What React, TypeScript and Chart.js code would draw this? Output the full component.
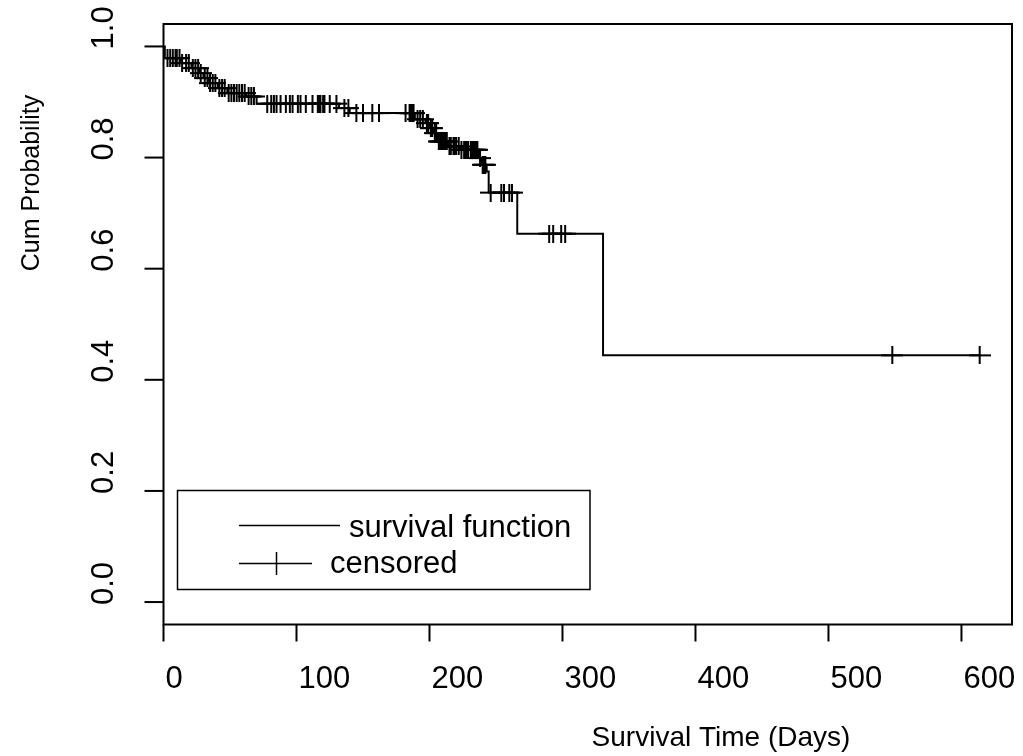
import React, { useEffect, useRef } from "react";
import { Chart, registerables } from "chart.js";

Chart.register(...registerables);

// Kaplan-Meier step function: time of each drop and survival after it
const eventTimes = [0, 1, 13, 21, 27, 30, 34, 41, 48, 62, 70, 132, 140, 189, 197, 200, 203, 206, 214, 223, 237, 239, 243, 244.5, 266, 330.5, 613.7];
const survival = [1.0, 0.979, 0.97, 0.961, 0.952, 0.943, 0.934, 0.925, 0.916, 0.91, 0.897, 0.889, 0.88, 0.869, 0.862, 0.853, 0.844, 0.829, 0.82, 0.814, 0.799, 0.787, 0.775, 0.737, 0.663, 0.444, 0.444];

// Censoring times
const censorTimes = [
  3, 5, 7, 9, 10, 12,
  14, 17, 19,
  22, 24, 26,
  28,
  31, 33,
  35, 37, 39,
  42, 44, 46,
  49, 51, 53, 55, 57, 59, 61,
  64, 66, 68,
  78, 81, 83, 85, 88, 92, 95, 97, 101, 103, 107, 112, 116, 117, 118, 120, 121, 125, 130,
  136, 139,
  145, 150, 157, 162, 182, 185, 186, 187, 188,
  191, 193, 195,
  198, 199,
  201, 202,
  204, 205,
  207, 208, 209, 210, 211, 212, 213,
  215, 216, 218, 219, 220, 222,
  224, 226, 227, 228, 229, 231, 232, 233, 234, 235, 236,
  238,
  240, 241, 242,
  246,
  254, 256, 260, 262,
  290, 293, 299, 302,
  548, 613.7,
];

const xTicks = [0, 100, 200, 300, 400, 500, 600];
const yTicks = [0.0, 0.2, 0.4, 0.6, 0.8, 1.0];
const yTickLabels = ["0.0", "0.2", "0.4", "0.6", "0.8", "1.0"];
const xTitle = "Survival Time (Days)";
const yTitle = "Cum Probability";
const legendLabels = ["survival function", "censored"];

const FONT = '"Liberation Sans", Arial, sans-serif';

function survivalAt(t: number): number {
  let s = survival[0];
  for (let i = 0; i < eventTimes.length; i++) {
    if (eventTimes[i] <= t) s = survival[i];
  }
  return s;
}

function makeCross(): HTMLCanvasElement {
  const c = document.createElement("canvas");
  c.width = 22;
  c.height = 18;
  const g = c.getContext("2d")!;
  g.strokeStyle = "#000";
  g.lineWidth = 2;
  g.beginPath();
  g.moveTo(0, 9);
  g.lineTo(22, 9);
  g.moveTo(11, 0);
  g.lineTo(11, 18);
  g.stroke();
  return c;
}

const decorPlugin = {
  id: "decor",
  afterDraw(chart: any) {
    const { ctx, chartArea: a, scales } = chart;
    const xs = scales.x;
    const ys = scales.y;
    ctx.save();
    ctx.strokeStyle = "#000";
    ctx.fillStyle = "#000";
    // plot box
    ctx.lineWidth = 2;
    ctx.strokeRect(a.left, a.top, a.right - a.left, a.bottom - a.top);

    // y ticks + labels
    ctx.font = `31px ${FONT}`;
    yTicks.forEach((v, i) => {
      const y = ys.getPixelForValue(v);
      ctx.beginPath();
      ctx.moveTo(a.left - 19, y);
      ctx.lineTo(a.left, y);
      ctx.stroke();
      ctx.save();
      ctx.translate(113, y + 3);
      ctx.rotate(-Math.PI / 2);
      ctx.textAlign = "left";
      ctx.textBaseline = "alphabetic";
      ctx.fillText(yTickLabels[i], 0, 0);
      ctx.restore();
    });

    // x ticks + labels
    xTicks.forEach((v) => {
      const x = xs.getPixelForValue(v);
      ctx.beginPath();
      ctx.moveTo(x, a.bottom);
      ctx.lineTo(x, a.bottom + 17);
      ctx.stroke();
      ctx.textAlign = "left";
      ctx.textBaseline = "alphabetic";
      ctx.fillText(String(v), x + 2, 688);
    });

    // axis titles
    ctx.font = `28px ${FONT}`;
    ctx.textAlign = "center";
    ctx.fillText(xTitle, 721, 746);
    ctx.save();
    ctx.translate(39, 183);
    ctx.rotate(-Math.PI / 2);
    ctx.font = `25px ${FONT}`;
    ctx.textAlign = "center";
    ctx.fillText(yTitle, 0, 0);
    ctx.restore();

    // legend
    ctx.lineWidth = 1.5;
    ctx.strokeRect(177.5, 490.5, 412.5, 99);
    ctx.beginPath();
    ctx.moveTo(239, 525.5);
    ctx.lineTo(340, 525.5);
    ctx.stroke();
    ctx.beginPath();
    ctx.moveTo(239, 563.5);
    ctx.lineTo(312, 563.5);
    ctx.moveTo(276.5, 552);
    ctx.lineTo(276.5, 575);
    ctx.stroke();
    ctx.font = `31px ${FONT}`;
    ctx.textAlign = "left";
    ctx.fillText(legendLabels[0], 349, 537);
    ctx.fillText(legendLabels[1], 330, 573);
    ctx.restore();
  },
};

export default function App() {
  const ref = useRef<HTMLCanvasElement | null>(null);
  useEffect(() => {
    if (!ref.current) return;
    const cross = makeCross();
    const chart = new Chart(ref.current, {
      type: "line",
      data: {
        datasets: [
          {
            label: legendLabels[0],
            data: eventTimes.map((t, i) => ({ x: t, y: survival[i] })),
            stepped: "before",
            borderColor: "#000",
            borderWidth: 2,
            pointRadius: 0,
            fill: false,
          },
          {
            label: legendLabels[1],
            data: censorTimes.map((t) => ({ x: t, y: survivalAt(t) })),
            showLine: false,
            pointStyle: cross as any,
            pointRadius: 10,
            borderColor: "#000",
            backgroundColor: "#000",
          },
        ],
      },
      options: {
        animation: false,
        responsive: false,
        events: [],
        layout: { padding: { left: 163.5, top: 24, right: 7, bottom: 131.5 } },
        scales: {
          x: { type: "linear", min: 0, max: 638, display: false },
          y: { type: "linear", min: -0.0404, max: 1.0404, display: false },
        },
        plugins: { legend: { display: false }, tooltip: { enabled: false } },
      },
      plugins: [decorPlugin],
    });
    return () => chart.destroy();
  }, []);
  return (
    <div style={{ position: "absolute", left: 0, top: 0, width: 1023, height: 756, background: "#fff" }}>
      <canvas ref={ref} width={1023} height={756} style={{ display: "block" }} />
    </div>
  );
}
